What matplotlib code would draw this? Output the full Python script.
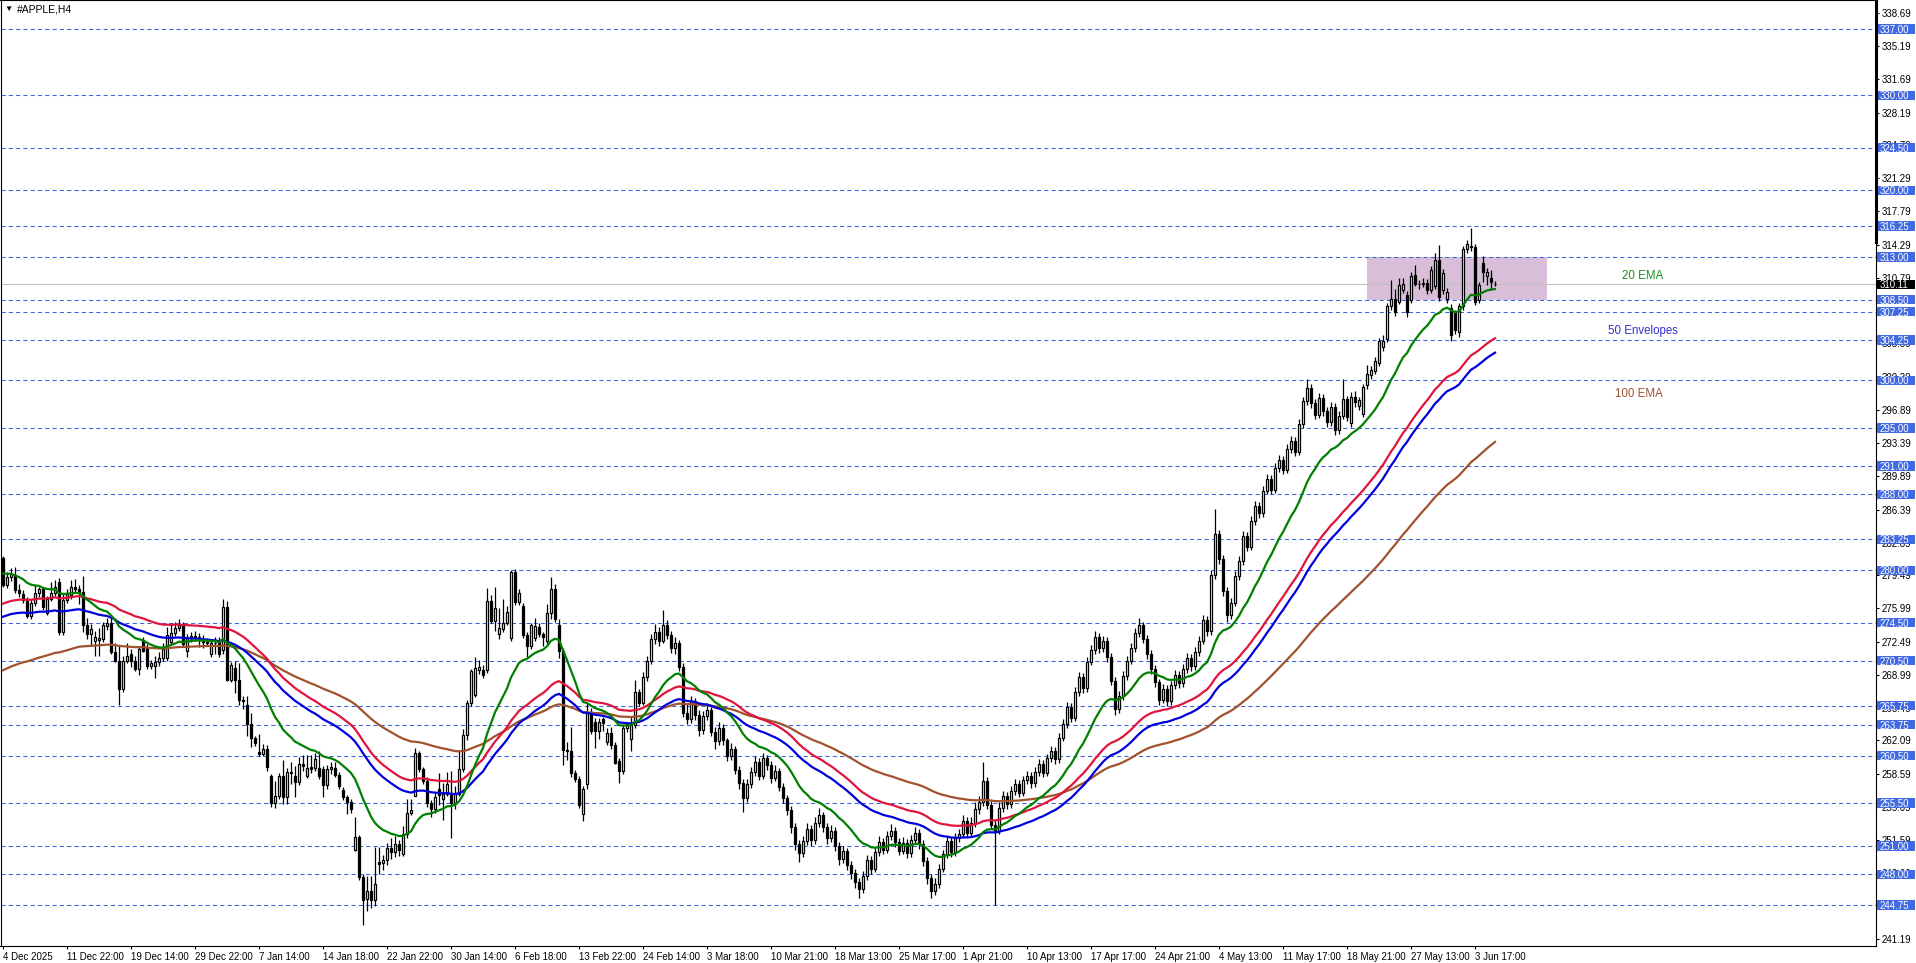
import matplotlib
matplotlib.use("Agg")
import matplotlib.pyplot as plt
import matplotlib.transforms as mtransforms
from matplotlib.patches import Rectangle
import numpy as np

plt.rcParams['font.family'] = ['Liberation Sans', 'DejaVu Sans']

# H4 bars (price units)
opens = [281.3, 278.5, 279.3, 279.5, 277.9, 277.5, 276.8, 275.2, 276.6, 277.6,
         278.0, 275.5, 277.0, 277.6, 278.8, 273.5, 276.9, 277.4, 278.2, 278.0,
         277.7, 274.2, 273.3, 272.6, 272.7, 272.8, 274.1, 274.5, 271.4, 270.5,
         267.5, 270.5, 271.2, 270.5, 269.6, 272.7, 271.8, 269.9, 269.9, 270.3,
         270.8, 270.8, 272.5, 273.4, 273.9, 274.3, 271.5, 272.9, 273.1, 273.0,
         272.8, 272.5, 271.2, 272.3, 272.6, 271.6, 276.1, 268.5, 269.7, 268.5,
         266.4, 265.8, 263.8, 262.3, 260.9, 260.7, 261.2, 258.4, 255.5, 256.2,
         258.4, 256.1, 258.8, 258.4, 257.7, 259.6, 258.4, 259.3, 259.2, 259.2,
         259.1, 257.4, 259.1, 259.2, 258.5, 256.9, 256.1, 255.6, 250.6, 251.9,
         247.7, 245.4, 246.2, 245.3, 249.3, 249.2, 249.5, 250.8, 250.3, 251.2,
         250.1, 252.2, 254.5, 256.2, 260.8, 259.1, 257.8, 255.5, 254.9, 257.0,
         255.9, 256.5, 256.3, 255.5, 256.5, 259.1, 262.7, 266.0, 266.9, 269.5,
         269.5, 269.5, 276.8, 274.7, 273.3, 273.8, 274.5, 272.9, 279.8, 276.7,
         276.3, 273.2, 272.0, 272.9, 274.0, 273.3, 272.6, 275.5, 278.0, 274.2,
         271.5, 261.1, 261.0, 258.7, 258.0, 254.3, 257.5, 265.0, 264.0, 263.1,
         264.4, 261.9, 262.9, 261.6, 259.9, 258.9, 263.4, 262.2, 263.7, 267.2,
         266.0, 268.8, 270.5, 272.8, 273.5, 272.6, 274.3, 273.2, 271.8, 272.4,
         269.8, 265.0, 264.3, 266.2, 264.8, 263.2, 264.7, 265.3, 263.0, 262.0,
         263.4, 262.1, 260.5, 261.2, 259.0, 257.6, 256.0, 257.5, 258.8, 259.8,
         258.4, 260.2, 259.5, 258.1, 258.9, 257.2, 256.0, 254.8, 253.0, 251.2,
         250.2, 251.5, 252.8, 251.6, 253.4, 254.2, 253.0, 251.8, 252.6, 251.0,
         249.6, 250.4, 249.0, 248.1, 247.2, 246.4, 247.8, 249.5, 248.6, 250.3,
         251.4, 250.6, 252.0, 252.6, 251.4, 250.5, 251.3, 250.2, 251.6, 252.4,
         251.2, 249.4, 247.6, 246.2, 247.0, 248.6, 250.1, 251.5, 250.3, 251.8,
         252.2, 253.6, 252.4, 253.4, 254.9, 255.6, 257.8, 255.3, 253.2, 252.6,
         255.0, 256.2, 255.4, 256.8, 257.5, 256.6, 257.9, 258.4, 257.6, 258.8,
         259.6, 258.7, 260.2, 261.0, 260.1, 262.4, 263.8, 265.6, 264.5, 267.2,
         268.8, 267.6, 270.4, 271.6, 273.0, 271.8, 272.6, 270.9, 268.4, 265.4,
         266.8, 268.9, 270.5, 271.8, 273.4, 274.2, 272.8, 271.2, 269.6, 268.2,
         266.4, 267.5, 266.2, 267.9, 269.0, 268.1, 269.6, 270.8, 269.9, 271.4,
         272.6, 274.8, 273.6, 279.5, 283.8, 281.2, 277.8, 275.3, 276.6, 279.4,
         281.0, 283.6, 282.5, 285.2, 286.8, 286.0, 288.4, 289.6, 288.5, 290.8,
         291.6, 290.6, 292.8, 293.6, 292.5, 295.4, 297.8, 299.2, 297.6, 296.4,
         298.2, 296.8, 295.6, 297.2, 294.8, 296.3, 298.0, 295.5, 298.3, 297.3,
         296.5, 299.5, 300.6, 301.0, 301.8, 303.5, 304.4, 307.8, 308.6, 308.3,
         309.5, 309.0, 308.5, 311.1, 310.2, 310.1, 310.3, 309.5, 309.9, 312.7,
         309.5, 308.6, 307.6, 307.1, 305.1, 307.8, 313.8, 314.2, 314.0, 308.5,
         312.4, 311.0, 310.8, 310.2]
highs = [281.5, 279.8, 280.3, 280.4, 278.6, 277.9, 277.2, 277.0, 278.5, 278.3,
         278.3, 277.3, 278.8, 279.0, 279.2, 277.5, 278.0, 279.0, 279.1, 278.5,
         279.4, 275.0, 274.4, 273.6, 273.9, 274.6, 275.0, 275.0, 272.4, 272.0,
         271.0, 272.4, 271.7, 271.0, 272.0, 273.0, 272.2, 270.6, 271.0, 271.4,
         272.3, 274.0, 274.5, 274.6, 274.9, 274.6, 273.3, 273.5, 273.6, 273.4,
         273.2, 272.9, 272.8, 273.0, 273.0, 277.0, 276.8, 270.4, 270.5, 270.2,
         266.8, 266.8, 265.0, 262.6, 262.8, 261.7, 261.6, 258.6, 257.8, 258.7,
         260.0, 259.2, 259.8, 259.4, 260.4, 260.6, 260.6, 260.6, 260.8, 261.0,
         259.4, 259.5, 259.8, 259.8, 258.8, 257.2, 256.4, 255.9, 254.0, 252.1,
         248.0, 247.8, 247.8, 250.9, 250.9, 250.0, 251.3, 251.8, 252.0, 251.6,
         253.1, 255.9, 255.9, 261.3, 261.0, 259.3, 258.2, 255.8, 256.6, 258.7,
         257.6, 258.8, 258.9, 257.3, 261.1, 263.3, 266.3, 269.6, 270.9, 270.6,
         270.0, 278.1, 277.4, 278.2, 276.0, 277.0, 276.2, 280.0, 280.1, 278.0,
         276.6, 273.5, 274.5, 275.0, 274.5, 273.5, 276.5, 279.3, 278.6, 274.9,
         271.8, 261.9, 263.5, 259.0, 258.3, 257.3, 266.0, 265.5, 264.5, 264.5,
         264.6, 263.4, 263.5, 261.9, 260.2, 263.7, 264.0, 264.7, 268.5, 267.5,
         269.3, 271.0, 273.3, 274.4, 274.0, 275.8, 274.8, 273.6, 273.0, 272.7,
         270.2, 265.9, 266.8, 266.6, 265.3, 265.2, 266.0, 265.6, 263.5, 264.0,
         263.8, 262.4, 261.8, 261.5, 259.4, 258.0, 258.0, 259.3, 260.5, 260.2,
         260.8, 260.6, 259.9, 259.5, 259.2, 257.6, 256.4, 255.2, 253.4, 251.6,
         252.0, 253.4, 253.2, 254.0, 255.0, 254.6, 253.4, 253.2, 253.0, 251.4,
         251.0, 250.8, 249.4, 248.6, 247.6, 248.3, 250.0, 249.9, 250.8, 252.0,
         251.8, 252.6, 253.3, 253.0, 251.8, 251.9, 251.7, 252.1, 253.0, 252.8,
         251.6, 249.8, 248.0, 247.6, 249.1, 250.6, 252.0, 251.9, 252.3, 252.8,
         254.2, 254.0, 254.0, 255.6, 256.2, 259.8, 258.2, 255.7, 253.8, 255.6,
         256.8, 256.7, 257.3, 258.0, 257.9, 258.4, 258.9, 258.8, 259.3, 260.1,
         260.0, 260.7, 261.5, 261.4, 262.9, 264.3, 266.1, 266.0, 267.7, 269.3,
         269.2, 270.9, 272.1, 273.6, 273.4, 273.1, 273.0, 271.3, 268.8, 267.3,
         269.4, 271.0, 272.3, 273.9, 275.0, 274.6, 273.2, 271.6, 270.0, 268.6,
         268.0, 267.9, 268.4, 269.5, 269.4, 270.1, 271.3, 271.2, 271.9, 273.1,
         275.3, 275.2, 280.0, 286.5, 284.3, 281.6, 278.2, 277.1, 279.9, 281.5,
         284.1, 284.0, 285.7, 287.3, 287.2, 288.9, 290.1, 290.0, 291.3, 292.1,
         292.0, 293.3, 294.1, 294.0, 295.9, 298.3, 300.2, 299.6, 298.0, 298.7,
         298.6, 297.2, 297.7, 297.6, 296.8, 300.2, 298.4, 298.8, 298.9, 298.3,
         299.6, 301.6, 301.5, 302.5, 304.5, 304.8, 308.2, 310.6, 309.6, 310.8,
         310.8, 309.4, 311.4, 312.2, 310.6, 310.8, 310.7, 312.0, 313.4, 314.3,
         311.7, 309.7, 308.0, 307.4, 308.2, 314.2, 314.8, 316.0, 314.4, 310.4,
         313.1, 311.8, 311.6, 310.5]
lows = [278.3, 278.1, 278.9, 277.6, 277.2, 276.6, 275.0, 274.9, 276.3, 277.2,
        275.8, 275.3, 276.8, 277.3, 273.2, 273.2, 276.6, 277.0, 277.6, 276.5,
        273.5, 272.8, 272.0, 271.0, 271.0, 272.5, 273.7, 271.2, 270.3, 265.8,
        267.2, 270.2, 269.8, 269.4, 269.0, 271.4, 269.6, 269.6, 268.7, 269.9,
        270.5, 270.5, 272.2, 273.1, 273.6, 272.0, 270.9, 272.5, 272.6, 271.9,
        271.8, 272.0, 270.9, 271.2, 270.9, 271.2, 268.3, 268.2, 267.1, 265.8,
        265.4, 262.6, 261.4, 261.5, 260.5, 260.5, 258.9, 255.1, 255.0, 255.9,
        255.4, 255.4, 257.5, 256.1, 257.4, 258.9, 258.1, 258.7, 258.9, 258.0,
        256.1, 257.0, 258.6, 258.2, 257.0, 255.8, 254.3, 254.5, 250.4, 247.4,
        242.7, 244.1, 244.5, 244.7, 248.0, 248.5, 249.0, 249.6, 249.8, 249.9,
        249.9, 251.8, 254.2, 256.2, 258.8, 257.5, 255.1, 254.0, 254.5, 255.3,
        253.7, 256.2, 251.8, 254.9, 256.2, 258.8, 262.1, 265.7, 266.7, 269.1,
        268.7, 269.2, 274.5, 273.6, 272.8, 273.5, 274.2, 272.6, 276.4, 276.4,
        272.9, 270.9, 271.7, 272.6, 273.0, 272.0, 272.2, 274.9, 274.6, 270.8,
        259.5, 260.0, 258.2, 257.7, 255.0, 253.6, 257.0, 262.8, 261.3, 262.2,
        263.1, 261.6, 261.2, 259.6, 257.6, 258.6, 263.0, 261.0, 263.4, 265.7,
        265.8, 268.4, 270.1, 272.2, 272.0, 272.3, 272.8, 271.3, 271.2, 269.4,
        264.6, 263.8, 263.9, 264.2, 262.6, 262.8, 264.2, 262.6, 261.2, 261.6,
        261.6, 259.9, 260.0, 258.6, 257.0, 254.6, 255.6, 257.1, 258.4, 257.9,
        258.0, 259.0, 257.6, 257.8, 256.8, 255.5, 254.2, 252.4, 250.6, 249.3,
        249.8, 251.1, 251.0, 251.2, 253.0, 252.5, 251.2, 251.4, 250.5, 249.0,
        249.2, 248.5, 247.5, 246.6, 245.5, 246.0, 247.4, 248.0, 248.2, 249.9,
        250.1, 250.2, 251.6, 250.9, 250.0, 250.1, 249.7, 249.8, 251.2, 250.7,
        248.9, 247.0, 245.5, 245.8, 246.6, 248.2, 249.7, 249.8, 249.9, 251.4,
        251.8, 251.9, 252.0, 253.0, 254.4, 255.2, 254.9, 252.8, 244.8, 252.2,
        254.6, 254.9, 255.0, 256.4, 256.1, 256.2, 257.5, 257.1, 257.2, 258.4,
        258.2, 258.3, 259.8, 259.6, 259.7, 262.0, 263.4, 264.0, 264.1, 266.8,
        267.1, 267.2, 270.0, 271.2, 271.3, 271.4, 270.4, 267.9, 264.8, 265.0,
        266.4, 268.5, 270.1, 271.4, 273.0, 272.3, 270.7, 269.1, 267.7, 265.8,
        266.0, 265.7, 265.8, 267.5, 267.6, 267.7, 269.2, 269.4, 269.5, 271.0,
        272.2, 273.1, 273.2, 279.1, 280.7, 277.3, 274.6, 274.9, 276.2, 279.0,
        280.6, 282.0, 282.1, 284.8, 285.5, 285.6, 288.0, 288.0, 288.1, 290.4,
        290.1, 290.2, 292.4, 292.0, 292.1, 295.0, 297.4, 297.1, 295.9, 296.0,
        296.3, 295.1, 295.2, 294.3, 294.4, 295.9, 295.7, 295.1, 297.2, 296.9,
        296.1, 299.1, 300.2, 300.7, 301.5, 303.1, 304.0, 307.4, 306.8, 308.0,
        309.2, 306.7, 308.1, 309.9, 309.6, 309.8, 309.1, 309.2, 309.6, 308.4,
        309.1, 308.2, 304.2, 304.9, 304.6, 307.4, 313.4, 313.6, 307.9, 308.1,
        310.4, 310.0, 309.5, 309.9]
closes = [278.5, 279.3, 279.6, 277.9, 277.6, 276.9, 275.2, 276.6, 277.6, 278.0,
          276.1, 277.0, 277.6, 278.2, 273.5, 276.9, 277.5, 278.2, 278.0, 277.6,
          274.2, 273.3, 273.8, 273.0, 272.9, 274.2, 274.5, 271.4, 270.5, 267.5,
          270.5, 271.0, 270.5, 269.6, 271.7, 271.5, 269.9, 270.2, 270.4, 270.8,
          271.7, 273.2, 273.4, 273.9, 274.3, 272.2, 272.9, 273.1, 273.0, 272.8,
          272.5, 272.4, 272.3, 272.4, 271.2, 276.1, 268.5, 270.0, 268.5, 266.3,
          266.2, 263.8, 262.3, 261.8, 260.7, 261.2, 259.3, 255.5, 256.2, 258.4,
          256.1, 258.8, 258.7, 257.7, 259.6, 259.4, 259.2, 259.1, 260.1, 258.4,
          257.4, 259.1, 259.3, 258.5, 257.3, 256.1, 255.6, 254.9, 251.9, 247.7,
          245.3, 246.2, 245.3, 247.0, 249.1, 249.5, 250.8, 250.3, 251.2, 250.6,
          252.2, 254.5, 254.8, 260.8, 259.1, 257.8, 255.5, 254.9, 256.1, 256.3,
          256.5, 257.5, 255.5, 256.5, 259.1, 262.7, 266.0, 269.4, 269.7, 269.8,
          269.0, 276.8, 274.7, 276.0, 273.9, 274.5, 275.6, 279.8, 276.7, 277.6,
          273.2, 272.0, 274.2, 274.1, 273.3, 273.0, 275.5, 278.0, 274.9, 271.5,
          261.1, 261.0, 258.7, 258.0, 255.3, 257.0, 265.0, 263.1, 263.1, 264.0,
          263.9, 262.9, 261.6, 259.7, 258.9, 263.4, 263.8, 263.7, 267.2, 266.0,
          268.8, 270.5, 272.8, 273.5, 272.6, 274.3, 273.2, 271.8, 272.4, 269.8,
          265.0, 264.3, 266.2, 264.8, 263.2, 264.7, 265.3, 263.0, 262.0, 263.4,
          262.1, 260.5, 261.2, 259.0, 257.6, 256.0, 257.5, 258.8, 259.8, 258.4,
          260.2, 259.5, 258.1, 258.9, 257.2, 256.0, 254.8, 253.0, 251.2, 250.2,
          251.5, 252.8, 251.6, 253.4, 254.2, 253.0, 251.8, 252.6, 251.0, 249.6,
          250.4, 249.0, 248.1, 247.2, 246.4, 247.8, 249.5, 248.6, 250.3, 251.4,
          250.6, 252.0, 252.6, 251.4, 250.5, 251.3, 250.2, 251.6, 252.4, 251.2,
          249.4, 247.6, 246.2, 247.0, 248.6, 250.1, 251.5, 250.3, 251.8, 252.2,
          253.6, 252.4, 253.4, 254.9, 255.6, 257.8, 255.3, 253.2, 252.6, 255.0,
          256.2, 255.4, 256.8, 257.5, 256.6, 257.9, 258.4, 257.6, 258.8, 259.6,
          258.7, 260.2, 261.0, 260.1, 262.4, 263.8, 265.6, 264.5, 267.2, 268.8,
          267.6, 270.4, 271.6, 273.0, 271.8, 272.6, 270.9, 268.4, 265.4, 266.8,
          268.9, 270.5, 271.8, 273.4, 274.2, 272.8, 271.2, 269.6, 268.2, 266.4,
          267.5, 266.2, 267.9, 269.0, 268.1, 269.6, 270.8, 269.9, 271.4, 272.6,
          274.8, 273.6, 279.5, 283.8, 281.2, 277.8, 275.3, 276.6, 279.4, 281.0,
          283.6, 282.5, 285.2, 286.8, 286.0, 288.4, 289.6, 288.5, 290.8, 291.6,
          290.6, 292.8, 293.6, 292.5, 295.4, 297.8, 299.2, 297.6, 296.4, 298.2,
          296.8, 295.6, 297.2, 294.8, 296.3, 298.0, 296.2, 298.3, 297.7, 297.9,
          299.3, 300.7, 301.1, 302.0, 304.1, 304.2, 307.8, 308.6, 307.2, 310.0,
          310.1, 307.2, 311.0, 310.2, 310.1, 310.3, 309.5, 311.6, 312.7, 308.8,
          311.3, 309.3, 304.8, 305.3, 307.8, 313.8, 314.4, 314.0, 308.3, 310.0,
          311.4, 311.4, 310.4, 310.11]

# indicator values at the left edge of the chart
ema20_start = 279.8
env50_start = 275.7
ema100_start = 269.3
env_dev = 0.0025

levels = [337.00, 330.00, 324.50, 320.00, 316.25, 313.00, 308.50, 307.25,
          304.25, 300.00, 295.00, 291.00, 288.00, 283.25, 280.00, 274.50,
          270.50, 265.75, 263.75, 260.50, 255.50, 251.00, 248.00, 244.75]
price_ticks = [338.69, 335.19, 331.69, 328.19, 324.79, 321.29, 317.79, 314.29,
               310.79, 303.89, 300.39, 296.89, 293.39, 289.89, 286.39, 282.89,
               279.49, 275.99, 272.49, 268.99, 265.49, 262.09, 258.59, 255.09,
               251.59, 248.09, 244.69, 241.19]
time_labels = ['4 Dec 2025', '11 Dec 22:00', '19 Dec 14:00', '29 Dec 22:00',
               '7 Jan 14:00', '14 Jan 18:00', '22 Jan 22:00', '30 Jan 14:00',
               '6 Feb 18:00', '13 Feb 22:00', '24 Feb 14:00', '3 Mar 18:00',
               '10 Mar 21:00', '18 Mar 13:00', '25 Mar 17:00', '1 Apr 21:00',
               '10 Apr 13:00', '17 Apr 17:00', '24 Apr 21:00', '4 May 13:00',
               '11 May 17:00', '18 May 21:00', '27 May 13:00', '3 Jun 17:00']
last_price = 310.11
zone_low, zone_high = 308.5, 313.0
zone_from, zone_to = 341, 386


def ema(values, period, start):
    k = 2.0 / (period + 1)
    out = []
    prev = start
    for v in values:
        prev = prev + k * (v - prev)
        out.append(prev)
    return np.array(out)


W, H = 1916, 963
fig = plt.figure(figsize=(W / 100, H / 100), dpi=100)
ax = fig.add_axes([0.5 / W, 17 / H, 1875.5 / W, 945.5 / H])

o = np.array(opens)
h = np.array(highs)
l = np.array(lows)
c = np.array(closes)
x = np.arange(len(c))

# zone + level lines
ax.add_patch(Rectangle((zone_from, zone_low), zone_to - zone_from, zone_high - zone_low,
                       facecolor='#D8BED8', edgecolor='none', zorder=1))
for lv in levels:
    ax.axhline(lv, color='#3B64E0', lw=0.75, dashes=(4, 3), zorder=2)
ax.axhline(last_price, color='#C0C0C0', lw=0.75, zorder=2)

# candles
ax.vlines(x, l, h, color='black', lw=0.9, zorder=3)
bottoms = np.minimum(o, c)
heights = np.abs(c - o)
colors = ['white' if cc >= oo else 'black' for oo, cc in zip(o, c)]
ax.bar(x, heights, bottom=bottoms, width=0.5, color=colors, edgecolor='black',
       linewidth=0.9, zorder=4)

# indicators
e20 = ema(c, 20, ema20_start)
e50 = ema(c, 50, env50_start)
e100 = ema(c, 100, ema100_start)
ax.plot(x, e100, color='#A0522D', lw=1.6, zorder=5)
ax.plot(x, e50 * (1 - env_dev), color='#0000DD', lw=1.6, zorder=5)
ax.plot(x, e50 * (1 + env_dev), color='#E0143C', lw=1.6, zorder=5)
ax.plot(x, e20, color='#008000', lw=1.6, zorder=5)

ax.text(410, 311.0, '20 EMA', color='#1E8C1E', fontsize=8.3, ha='center', va='center')
ax.text(410, 305.2, '50 Envelopes', color='#3030D0', fontsize=8.3, ha='center', va='center')
ax.text(409, 298.6, '100 EMA', color='#A0522D', fontsize=8.3, ha='center', va='center')

ax.set_xlim(-0.625, 468.25)
ax.set_ylim(240.45, 340.0)

# axes look
for s in ax.spines.values():
    s.set_color('black')
    s.set_linewidth(0.8)
ax.yaxis.tick_right()
ax.set_yticks(price_ticks)
ax.set_yticklabels([f'{t:.2f}' for t in price_ticks])
ax.set_xticks(np.arange(len(time_labels)) * 16)
ax.set_xticklabels(time_labels, ha='left')
ax.tick_params(axis='both', direction='out', length=2.5, width=0.8, labelsize=7,
               colors='black', pad=1.5)

# level labels on the price scale
tr = mtransforms.blended_transform_factory(fig.transFigure, ax.transData)
for lv in levels:
    ax.add_patch(Rectangle((1877 / W, lv - 0.5), 38 / W, 1.0, transform=tr,
                           facecolor='#4169E1', edgecolor='none', zorder=10, clip_on=False))
    ax.text(1880 / W, lv, f'{lv:.2f}', transform=tr, color='white', fontsize=7,
            va='center_baseline', ha='left', zorder=11, clip_on=False)
ax.add_patch(Rectangle((1877 / W, last_price - 0.5), 38 / W, 1.0, transform=tr,
                       facecolor='black', edgecolor='none', zorder=10, clip_on=False))
ax.text(1880 / W, last_price, f'{last_price:.2f}', transform=tr, color='white',
        fontsize=7, va='center_baseline', ha='left', zorder=11, clip_on=False)

ax.plot([1, 1], [0.745, 1], transform=ax.transAxes, color='black', lw=2.2,
        clip_on=False, zorder=12)

fig.text(4 / W, 1 - 9 / H, '\u25bc', fontsize=6, va='center', ha='left')
fig.text(17 / W, 1 - 9 / H, '#APPLE,H4', fontsize=7.5, va='center', ha='left')

fig.savefig('out.png', dpi=100, facecolor='white')
